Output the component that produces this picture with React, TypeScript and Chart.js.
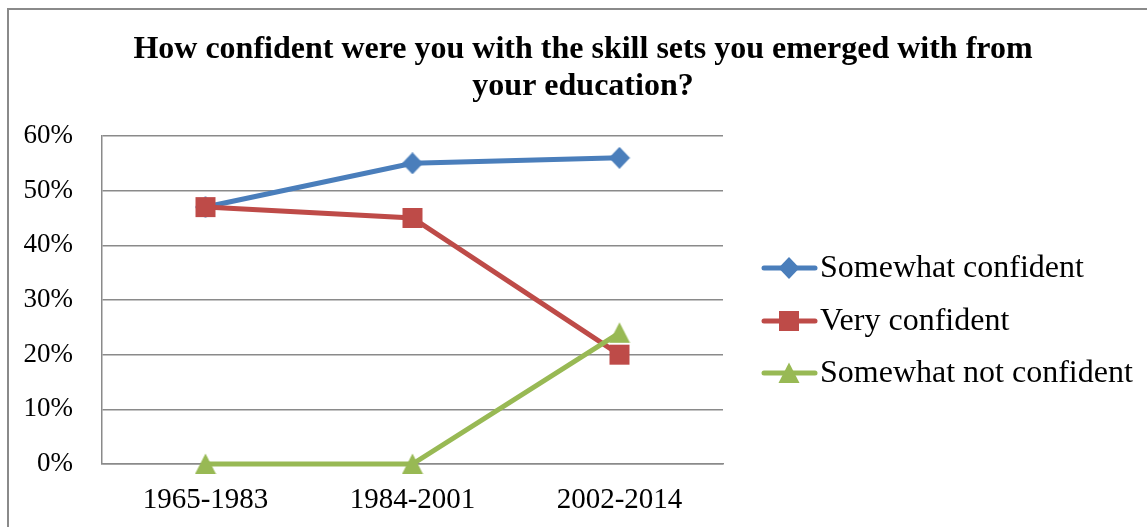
import React, { useEffect, useRef } from "react";
import { Chart, registerables } from "chart.js";

Chart.register(...registerables);

const categories = ["1965-1983", "1984-2001", "2002-2014"];
const somewhatConfident = [47, 55, 56];
const veryConfident = [47, 45, 20];
const somewhatNotConfident = [0, 0, 24];
const titleLines = [
  "How confident were you with the skill sets you emerged with from",
  "your education?",
];

const SERIF = '"Liberation Serif", "Times New Roman", serif';
const BLUE = "#4a7ebb";
const RED = "#be4b48";
const GREEN = "#98b954";
const GRID = "#8a8a8a";

function makeMarker(shape: string, color: string): HTMLCanvasElement {
  const c = document.createElement("canvas");
  const S = 22;
  c.width = S;
  c.height = S;
  const ctx = c.getContext("2d")!;
  ctx.fillStyle = color;
  ctx.beginPath();
  const m = S / 2;
  if (shape === "square") {
    ctx.rect(1, 1, 20, 20);
  } else if (shape === "diamond") {
    ctx.moveTo(m, 0);
    ctx.lineTo(S - 0.5, m);
    ctx.lineTo(m, S);
    ctx.lineTo(0.5, m);
    ctx.closePath();
  } else {
    ctx.moveTo(m, 0.5);
    ctx.lineTo(S - 0.5, S - 1);
    ctx.lineTo(0.5, S - 1);
    ctx.closePath();
  }
  ctx.fill();
  return c;
}

const decorPlugin = {
  id: "decor",
  beforeDraw(chart: any) {
    const ctx = chart.ctx;
    ctx.save();
    ctx.fillStyle = "#ffffff";
    ctx.fillRect(0, 0, chart.width, chart.height);
    ctx.strokeStyle = GRID;
    ctx.lineWidth = 2;
    ctx.strokeRect(8, 9, 1400, 800);
    ctx.restore();
  },
  afterDraw(chart: any) {
    const ctx = chart.ctx;
    ctx.save();
    ctx.fillStyle = "#000";
    ctx.font = `bold 32px ${SERIF}`;
    ctx.textAlign = "center";
    ctx.textBaseline = "alphabetic";
    ctx.fillText(titleLines[0], 583, 58);
    ctx.fillText(titleLines[1], 583, 95);
    const items = chart.data.datasets;
    const ys = [268, 321, 373];
    items.forEach((ds: any, i: number) => {
      const y = ys[i];
      ctx.strokeStyle = ds.borderColor;
      ctx.lineWidth = 5;
      ctx.lineCap = "round";
      ctx.beginPath();
      ctx.moveTo(764, y);
      ctx.lineTo(815, y);
      ctx.stroke();
      const img = ds.pointStyle as HTMLCanvasElement;
      ctx.drawImage(img, 789 - img.width / 2, y - img.height / 2);
      ctx.fillStyle = "#000";
      ctx.font = `32px ${SERIF}`;
      ctx.textAlign = "left";
      ctx.textBaseline = "middle";
      ctx.fillText(ds.label, 820, y + 1);
    });
    ctx.restore();
  },
};

export default function App() {
  const ref = useRef<HTMLCanvasElement>(null);
  useEffect(() => {
    document.body.style.margin = "0";
    const canvas = ref.current!;
    const mk = (label: string, data: number[], color: string, shape: string, order: number) => ({
      label,
      data,
      order,
      borderColor: color,
      backgroundColor: color,
      pointBackgroundColor: color,
      pointBorderColor: color,
      pointStyle: makeMarker(shape, color),
      pointRadius: 11,
      borderWidth: 5,
      tension: 0,
      clip: false,
    });
    const chart = new Chart(canvas, {
      type: "line",
      data: {
        labels: categories,
        datasets: [
          mk("Somewhat confident", somewhatConfident, BLUE, "diamond", 3),
          mk("Very confident", veryConfident, RED, "square", 2),
          mk("Somewhat not confident", somewhatNotConfident, GREEN, "triangle", 1),
        ] as any,
      },
      options: {
        animation: false,
        responsive: false,
        devicePixelRatio: 1,
        layout: { padding: { left: 0, right: 424, top: 136, bottom: 0 } },
        plugins: {
          legend: { display: false },
          title: { display: false },
          tooltip: { enabled: false },
        },
        scales: {
          x: {
            offset: true,
            grid: { display: false, drawTicks: false },
            border: { display: true, color: GRID, width: 1.5 },
            ticks: {
              color: "#000",
              font: { family: SERIF, size: 29 },
              padding: 19,
              maxRotation: 0,
            },
            afterFit(scale: any) {
              scale.height = 63;
            },
          },
          y: {
            min: 0,
            max: 60,
            grid: { color: GRID, lineWidth: 1.5, drawTicks: false },
            border: { display: true, color: GRID, width: 1.5 },
            ticks: {
              stepSize: 10,
              color: "#000",
              font: { family: SERIF, size: 27 },
              padding: 29,
              callback: (v: any) => v + "%",
            },
            afterFit(scale: any) {
              scale.width = 102;
            },
          },
        },
      },
      plugins: [decorPlugin],
    });
    return () => chart.destroy();
  }, []);
  return (
    <canvas
      ref={ref}
      width={1147}
      height={527}
      style={{ position: "fixed", left: 0, top: 0, width: 1147, height: 527, display: "block" }}
    />
  );
}
